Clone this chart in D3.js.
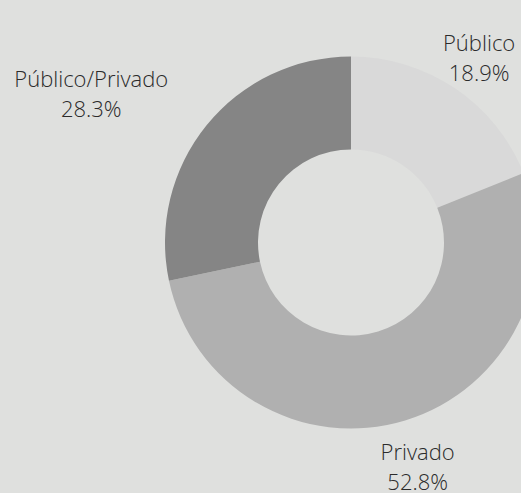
<!DOCTYPE html>
<html><head><meta charset="utf-8">
<script src="https://cdn.jsdelivr.net/npm/d3@7"></script>
<style>
html,body{margin:0;padding:0;background:#dfe0de;}
svg{display:block;}
text{font-family:"Open Sans",sans-serif;font-weight:300;fill:#2b2b2b;}
</style></head>
<body>
<svg id="chart" width="521" height="493"></svg>
<script>
const categories = ["Público", "Privado", "Público/Privado"];
const values = [18.9, 52.8, 28.3];
const valueLabels = ["18.9%", "52.8%", "28.3%"];
const colors = ["#d9d9d9", "#b0b0b0", "#858585"];

const W = 521, H = 493;
const cx = 351, cy = 242.5;
const outerR = 186, innerR = 93, labelR = 229;

const svg = d3.select("#chart");
svg.append("rect").attr("width", W).attr("height", H).attr("fill", "#dfe0de");

const data = categories.map((c, i) => ({name: c, value: values[i], label: valueLabels[i], color: colors[i]}));
const pie = d3.pie().value(d => d.value).sort(null);
const arcs = pie(data);
const arc = d3.arc().innerRadius(innerR).outerRadius(outerR);
const labelArc = d3.arc().innerRadius(labelR).outerRadius(labelR);

const g = svg.append("g").attr("transform", `translate(${cx},${cy})`);
g.selectAll("path").data(arcs).join("path")
  .attr("d", arc)
  .attr("fill", d => d.data.color);

const isLeft = d => (d.startAngle + d.endAngle) / 2 > Math.PI * 1.2;

const lbl = g.selectAll("text.lbl").data(arcs).join("text")
  .attr("class", "lbl")
  .attr("font-size", 22)
  .attr("text-anchor", "middle");
lbl.append("tspan").attr("x", 0).attr("y", 0).text(d => d.data.name);
lbl.append("tspan").attr("x", 0).attr("y", 30).text(d => d.data.label);

lbl.attr("transform", function(d) {
  const [x, y] = labelArc.centroid(d);
  if (isLeft(d)) {
    const w = this.getBBox().width;
    return `translate(${x - 5 - w / 2},${y - 11})`;
  }
  return `translate(${x},${y - 2})`;
});
</script>
</body></html>
